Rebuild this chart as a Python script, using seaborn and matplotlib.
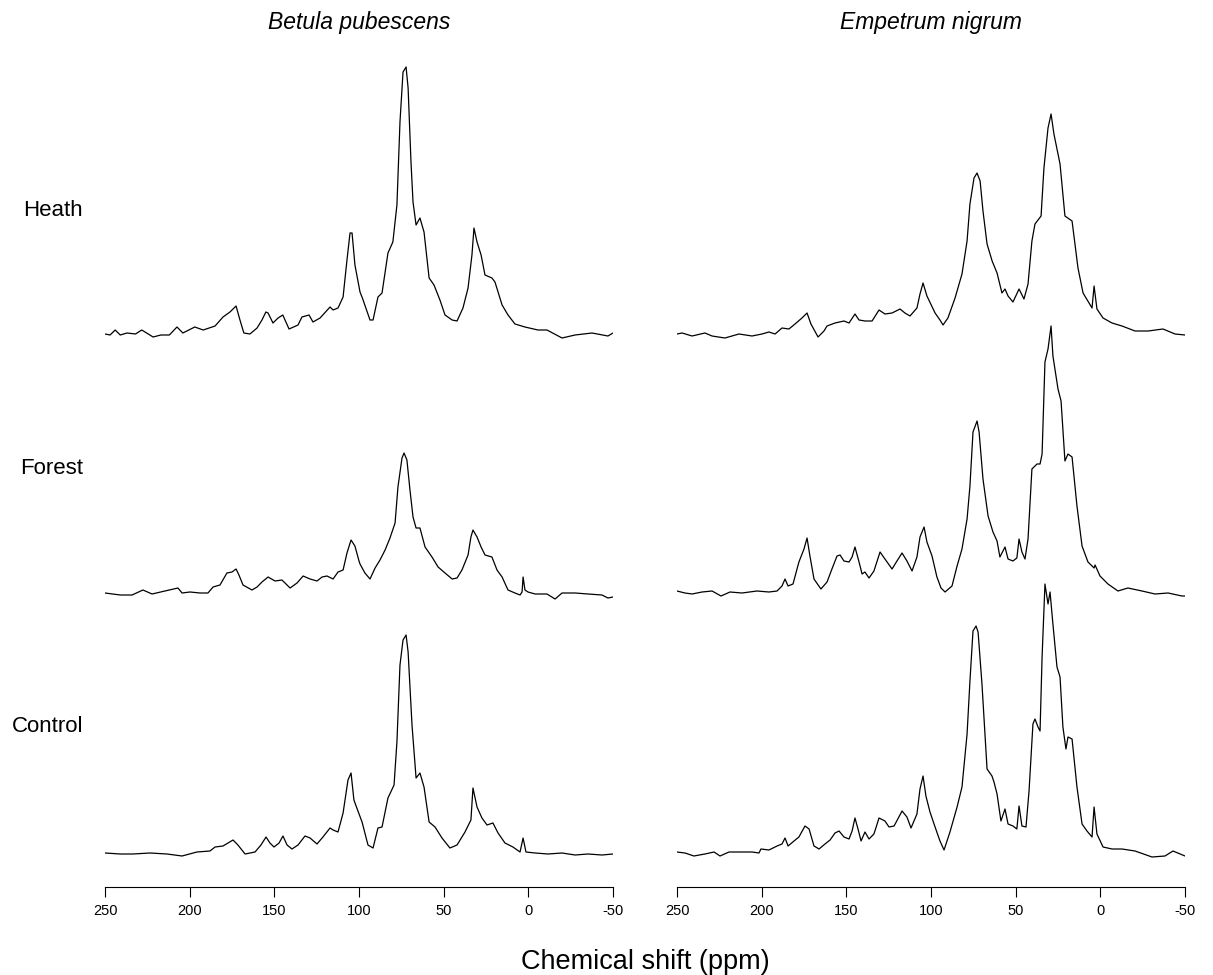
import matplotlib
matplotlib.use("Agg")
import matplotlib.pyplot as plt
import seaborn as sns

# ---------------- data (ppm, intensity above each baseline) ----------------
betula_heath_ppm = [250, 247, 244, 241, 237, 232, 228.3, 221.6, 217, 212, 207.5, 204, 197, 192, 185,
                    180.3, 176.2, 172.6, 170.3, 168, 164.4, 160.2, 157.3, 155, 153.7, 150.8, 147.8, 145,
                    143.7, 141.3, 136, 133.7, 129.5, 127.2, 123, 117.1, 115.3, 112.4, 109.4, 107.1, 105.3,
                    104.1, 102.4, 99.4, 98, 93.5, 91.7, 88.8, 86.4, 82.9, 80, 77.6, 75.8, 74, 72.2, 71,
                    69.3, 68.1, 66.3, 64, 61.6, 58.6, 55.7, 52.2, 49.2, 45, 42.1, 38.6, 35.6, 33.3, 32.1,
                    30.3, 27.9, 25.6, 21.5, 19.7, 15.5, 12, 7.9, 2, -5.7, -11, -19.9, -27.6, -37.6, -47, -50]
betula_heath_int = [0, -1, 4, -1, 1, 0, 4, -3, -1, -1, 7, 1, 7, 4, 8,
                    17, 22, 28, 14, 1, 0, 6, 14, 22, 21, 11, 16, 19,
                    14, 5, 9, 17, 19, 12, 16, 27, 24, 26, 37, 74, 101,
                    101, 69, 42, 36, 14, 14, 37, 41, 81, 92, 129, 212, 262, 267, 246,
                    172, 132, 109, 116, 102, 56, 49, 34, 19, 14, 13, 26, 46, 79, 106,
                    92, 79, 59, 56, 52, 29, 19, 10, 7, 4, 4, -4, -1, 1, -2, 1]

betula_forest_ppm = [250, 241, 234, 227.6, 222.2, 214.6, 206.9, 204.5, 199.8, 193.9, 189.2, 186.2, 182.1,
                     178, 175, 172.6, 170.9, 168.5, 163.2, 160.2, 157.3, 153.7, 149.6, 145.5, 143.7, 140.7,
                     136.6, 133, 128.9, 124.8, 121.8, 118.9, 115.3, 112.4, 109.4, 107.1, 104.7, 102.4, 100,
                     99.4, 96.5, 93.5, 90.5, 87.6, 84.6, 81.7, 78.7, 77, 74.6, 73.4, 71.7, 69.9, 68.1, 66.3,
                     64, 61, 56.9, 53.3, 49.2, 45, 42.1, 39.2, 35.6, 33.9, 32.7, 30.3, 27.9, 25.6, 21.5,
                     18.5, 15.5, 12, 7.9, 4.9, 3.7, 3.1, 2, 0.2, -4, -11, -15.8, -19.9, -27.6, -35.3, -43.5,
                     -47, -50]
betula_forest_int = [2, 0, 0, 5, 1, 4, 7, 2, 3, 2, 2, 8, 10,
                     22, 23, 26, 20, 10, 5, 8, 13, 18, 14, 15, 12, 7,
                     12, 19, 16, 14, 18, 19, 16, 23, 25, 42, 55, 49, 34,
                     31, 22, 16, 27, 35, 45, 57, 72, 108, 137, 142, 135, 105, 78, 67,
                     67, 48, 38, 28, 22, 16, 17, 25, 40, 58, 65, 58, 48, 40, 38,
                     25, 18, 5, 2, 0, 3, 18, 5, 3, 1, 1, -4, 2, 2, 1, 0,
                     -3, -2]

betula_control_ppm = [250, 241, 233.5, 223.4, 213.4, 204.5, 195.7, 188, 185, 180.3, 174.4, 171.5, 167.3,
                      161.4, 157.9, 154.9, 152.6, 150.2, 147.2, 144.9, 142.5, 139.6, 136, 131.9, 128.9,
                      124.8, 121.3, 117.1, 115.3, 112.4, 109.4, 106.5, 104.7, 103, 101.5, 98.2, 94.7, 91.7,
                      88.8, 86.4, 82.9, 79.3, 77.6, 75.8, 74, 72.2, 71, 68.7, 66.3, 64, 61.6, 58.6, 55.1,
                      51, 46.3, 42.1, 37.4, 33.9, 32.7, 30.3, 27.4, 24.4, 20.9, 17.9, 13.8, 9.1, 4.9, 3.1,
                      1.4, -4, -11.6, -19.9, -27.6, -35.3, -43.5, -50]
betula_control_int = [2, 1, 1, 2, 1, -1, 3, 4, 8, 9, 15, 10, 1,
                      3, 10, 18, 12, 8, 12, 19, 10, 6, 10, 19, 17,
                      11, 18, 27, 25, 23, 42, 75, 82, 55, 48, 33, 10, 7,
                      27, 28, 57, 70, 113, 190, 215, 220, 203, 130, 77, 82, 68, 33, 28,
                      17, 7, 10, 23, 35, 67, 48, 37, 30, 32, 22, 12, 8, 3, 17,
                      3, 2, 1, 2, 0, 1, 0, 1]

empetrum_heath_ppm = [250, 247, 241.1, 233.5, 229.3, 221.7, 213.4, 205.7, 199.8, 195.7, 192.1, 188, 183.9,
                      180.3, 176.2, 173.2, 170.9, 166.7, 163.2, 161.4, 156.7, 151.4, 148.4, 144.9, 142.5,
                      139, 134.8, 130.7, 127.2, 123, 118.3, 115.4, 112.4, 108.3, 106.5, 104.7, 102.4, 97.6,
                      94.7, 92.9, 90, 85.8, 81.7, 78.7, 77, 74.6, 72.8, 71, 69.3, 66.9, 63.9, 61, 58.1,
                      56.3, 54.5, 51.6, 48, 45.1, 42.7, 40.4, 38.6, 35, 33.3, 30.9, 29.1, 27.4, 23.8, 20.9,
                      16.7, 13.2, 10.2, 4.9, 3.7, 2, -1.6, -6.9, -12.8, -20.5, -28.2, -37, -44.1, -50]
empetrum_heath_int = [0, 1, -2, 1, -2, -4, 0, -2, 0, 2, 0, 6, 5,
                      10, 16, 21, 10, -3, 3, 8, 11, 13, 11, 20, 14,
                      13, 13, 24, 20, 21, 25, 21, 18, 26, 40, 51, 38, 21,
                      14, 9, 16, 36, 60, 93, 130, 156, 161, 153, 123, 90, 73, 61, 41,
                      45, 38, 32, 45, 35, 50, 93, 110, 118, 166, 206, 220, 200, 170, 118,
                      113, 66, 41, 26, 48, 25, 16, 11, 8, 3, 3, 5, 0, -1]

empetrum_forest_ppm = [250, 245.3, 241.1, 235.2, 229.3, 224, 218.7, 211.6, 202.8, 195.7, 190.9, 188, 186.2,
                       184.4, 181.5, 178, 175, 173.2, 171.5, 169.1, 165, 161.4, 158.5, 155.5, 153.7, 151.4,
                       148.4, 146.6, 144.9, 142.5, 140.7, 139, 136.6, 133.7, 130.1, 127.2, 123, 120.1, 117.1,
                       114.2, 111.2, 108.3, 106.5, 104.1, 102.4, 99.4, 96.5, 94.1, 91.7, 87.6, 84.6, 81.7,
                       78.7, 77, 75.2, 72.8, 71.6, 69.3, 66.3, 63.4, 61, 59.3, 56.3, 54.5, 51.6, 49.3, 48,
                       46.3, 44.5, 42.7, 40.4, 37.4, 35.6, 34.4, 32.7, 30.9, 29.1, 28, 25, 23.2, 20.9, 19.1,
                       16.7, 13.8, 10.8, 7.3, 3.7, 3.1, 0.2, -4.5, -10.4, -16.3, -24.6, -32.3, -40, -48.2, -50]
empetrum_forest_int = [4, 2, 1, 3, 4, -1, 3, 2, 4, 3, 4, 9, 16,
                       9, 11, 33, 46, 57, 39, 16, 6, 13, 26, 39, 40, 34,
                       33, 38, 48, 33, 21, 23, 17, 24, 43, 36, 26, 34, 42,
                       34, 24, 38, 58, 68, 53, 39, 18, 7, 3, 9, 29, 46,
                       76, 109, 163, 174, 163, 116, 79, 63, 54, 38, 48, 36, 34, 37, 56,
                       43, 36, 56, 126, 131, 131, 141, 233, 246, 269, 239, 206, 194, 134, 141,
                       138, 89, 49, 33, 27, 30, 19, 11, 4, 7, 4, 1, 2, -1, -1]

empetrum_control_ppm = [250, 245.3, 240, 233.5, 228.1, 224.6, 219.3, 213.4, 205.7, 201.6, 200.4, 195.7, 190.9,
                        188, 186.2, 184.4, 180.9, 178, 174.4, 172, 169.1, 166.1, 162.6, 159.6, 156.7, 154.3,
                        151.4, 148.4, 146.6, 144.9, 143.1, 141.3, 139, 136.6, 133.7, 130.7, 127.2, 124.8,
                        121.8, 117.1, 114.2, 111.8, 108.3, 106.5, 104.7, 103, 100.6, 97.6, 94.7, 92.3, 88.8,
                        84.6, 81.7, 78.7, 77, 75.2, 73.4, 72.2, 69.9, 66.9, 64, 62.8, 61, 58.7, 56.3, 54.5,
                        51.6, 49.3, 48, 46.3, 43.9, 42.1, 39.8, 38.6, 36.8, 35.6, 34.4, 32.7, 30.9, 29.7, 28,
                        25.6, 23.8, 22.1, 20.3, 19.1, 16.7, 13.8, 10.8, 7.9, 4.9, 3.7, 2, -1.6, -6.9, -12.8,
                        -20.5, -30.5, -38.2, -42.9, -50]
empetrum_control_int = [3, 2, -1, 1, 3, -1, 3, 3, 3, 2, 6, 5, 9,
                        11, 17, 9, 14, 18, 29, 26, 9, 6, 11, 15, 22, 24,
                        18, 16, 24, 37, 26, 14, 23, 16, 21, 37, 34, 28,
                        29, 44, 38, 27, 41, 66, 79, 59, 43, 28, 14, 5, 23,
                        48, 68, 121, 174, 224, 229, 223, 171, 86, 79, 73, 61, 34, 46, 31,
                        29, 26, 49, 29, 28, 64, 131, 136, 128, 124, 198, 271, 251, 263, 231,
                        188, 178, 128, 106, 118, 116, 68, 31, 24, 18, 48, 21, 8, 6, 6,
                        4, -2, -1, 4, -1]

species = ["Betula pubescens", "Empetrum nigrum"]
sites = ["Heath", "Forest", "Control"]
tick_values = [250, 200, 150, 100, 50, 0, -50]
tick_labels = ["250", "200", "150", "100", "50", "0", "-50"]
x_label = "Chemical shift (ppm)"

spectra = {
    ("Betula pubescens", "Heath"): (betula_heath_ppm, betula_heath_int),
    ("Betula pubescens", "Forest"): (betula_forest_ppm, betula_forest_int),
    ("Betula pubescens", "Control"): (betula_control_ppm, betula_control_int),
    ("Empetrum nigrum", "Heath"): (empetrum_heath_ppm, empetrum_heath_int),
    ("Empetrum nigrum", "Forest"): (empetrum_forest_ppm, empetrum_forest_int),
    ("Empetrum nigrum", "Control"): (empetrum_control_ppm, empetrum_control_int),
}

# ---------------- layout ----------------
sns.set_theme(style="white")
plt.rcParams["font.family"] = ["Liberation Sans", "DejaVu Sans"]
plt.rcParams["text.color"] = "black"
plt.rcParams["xtick.color"] = "black"
plt.rcParams["xtick.labelcolor"] = "black"
plt.rcParams["axes.edgecolor"] = "black"

W, H = 1213, 975
fig = plt.figure(figsize=(W / 100, H / 100), dpi=100)

offsets = {"Heath": 521, "Forest": 260, "Control": 0}
ax_bottom_px, ax_top_px = 887, 40
ylim = (-32, (ax_bottom_px - ax_top_px) - 32)
col_left_px = [105, 677]
col_width_px = 508

for ci, sp in enumerate(species):
    ax = fig.add_axes([col_left_px[ci] / W, 1 - ax_bottom_px / H,
                       col_width_px / W, (ax_bottom_px - ax_top_px) / H])
    ax.set_facecolor("none")
    for site in sites:
        ppm, inten = spectra[(sp, site)]
        yv = [v + offsets[site] for v in inten]
        sns.lineplot(x=ppm, y=yv, ax=ax, color="black", linewidth=0.9,
                     estimator=None, sort=False)
    ax.set_xlim(250, -50)
    ax.set_ylim(*ylim)
    for s in ["left", "right", "top"]:
        ax.spines[s].set_visible(False)
    ax.spines["bottom"].set_color("black")
    ax.spines["bottom"].set_linewidth(0.8)
    ax.set_yticks([])
    ax.set_xticks(tick_values)
    ax.set_xticklabels(tick_labels, fontsize=10.5, color="black")
    ax.tick_params(axis="x", direction="out", length=7, width=0.8, color="black",
                   labelcolor="black", pad=5, bottom=True)
    ax.set_xlabel("")
    ax.set_ylabel("")
    cx = (col_left_px[ci] + col_width_px / 2) / W
    fig.text(cx, 1 - 22 / H, sp, ha="center", va="center", fontsize=16.5,
             style="italic", color="black")

row_y = {"Heath": 210, "Forest": 468, "Control": 727}
for site in sites:
    fig.text(83 / W, 1 - row_y[site] / H, site, ha="right", va="center",
             fontsize=16, color="black")

fig.text(645 / W, 1 - 962 / H, x_label, ha="center", va="center",
         fontsize=19.5, color="black")

fig.savefig("out.png", dpi=100)
